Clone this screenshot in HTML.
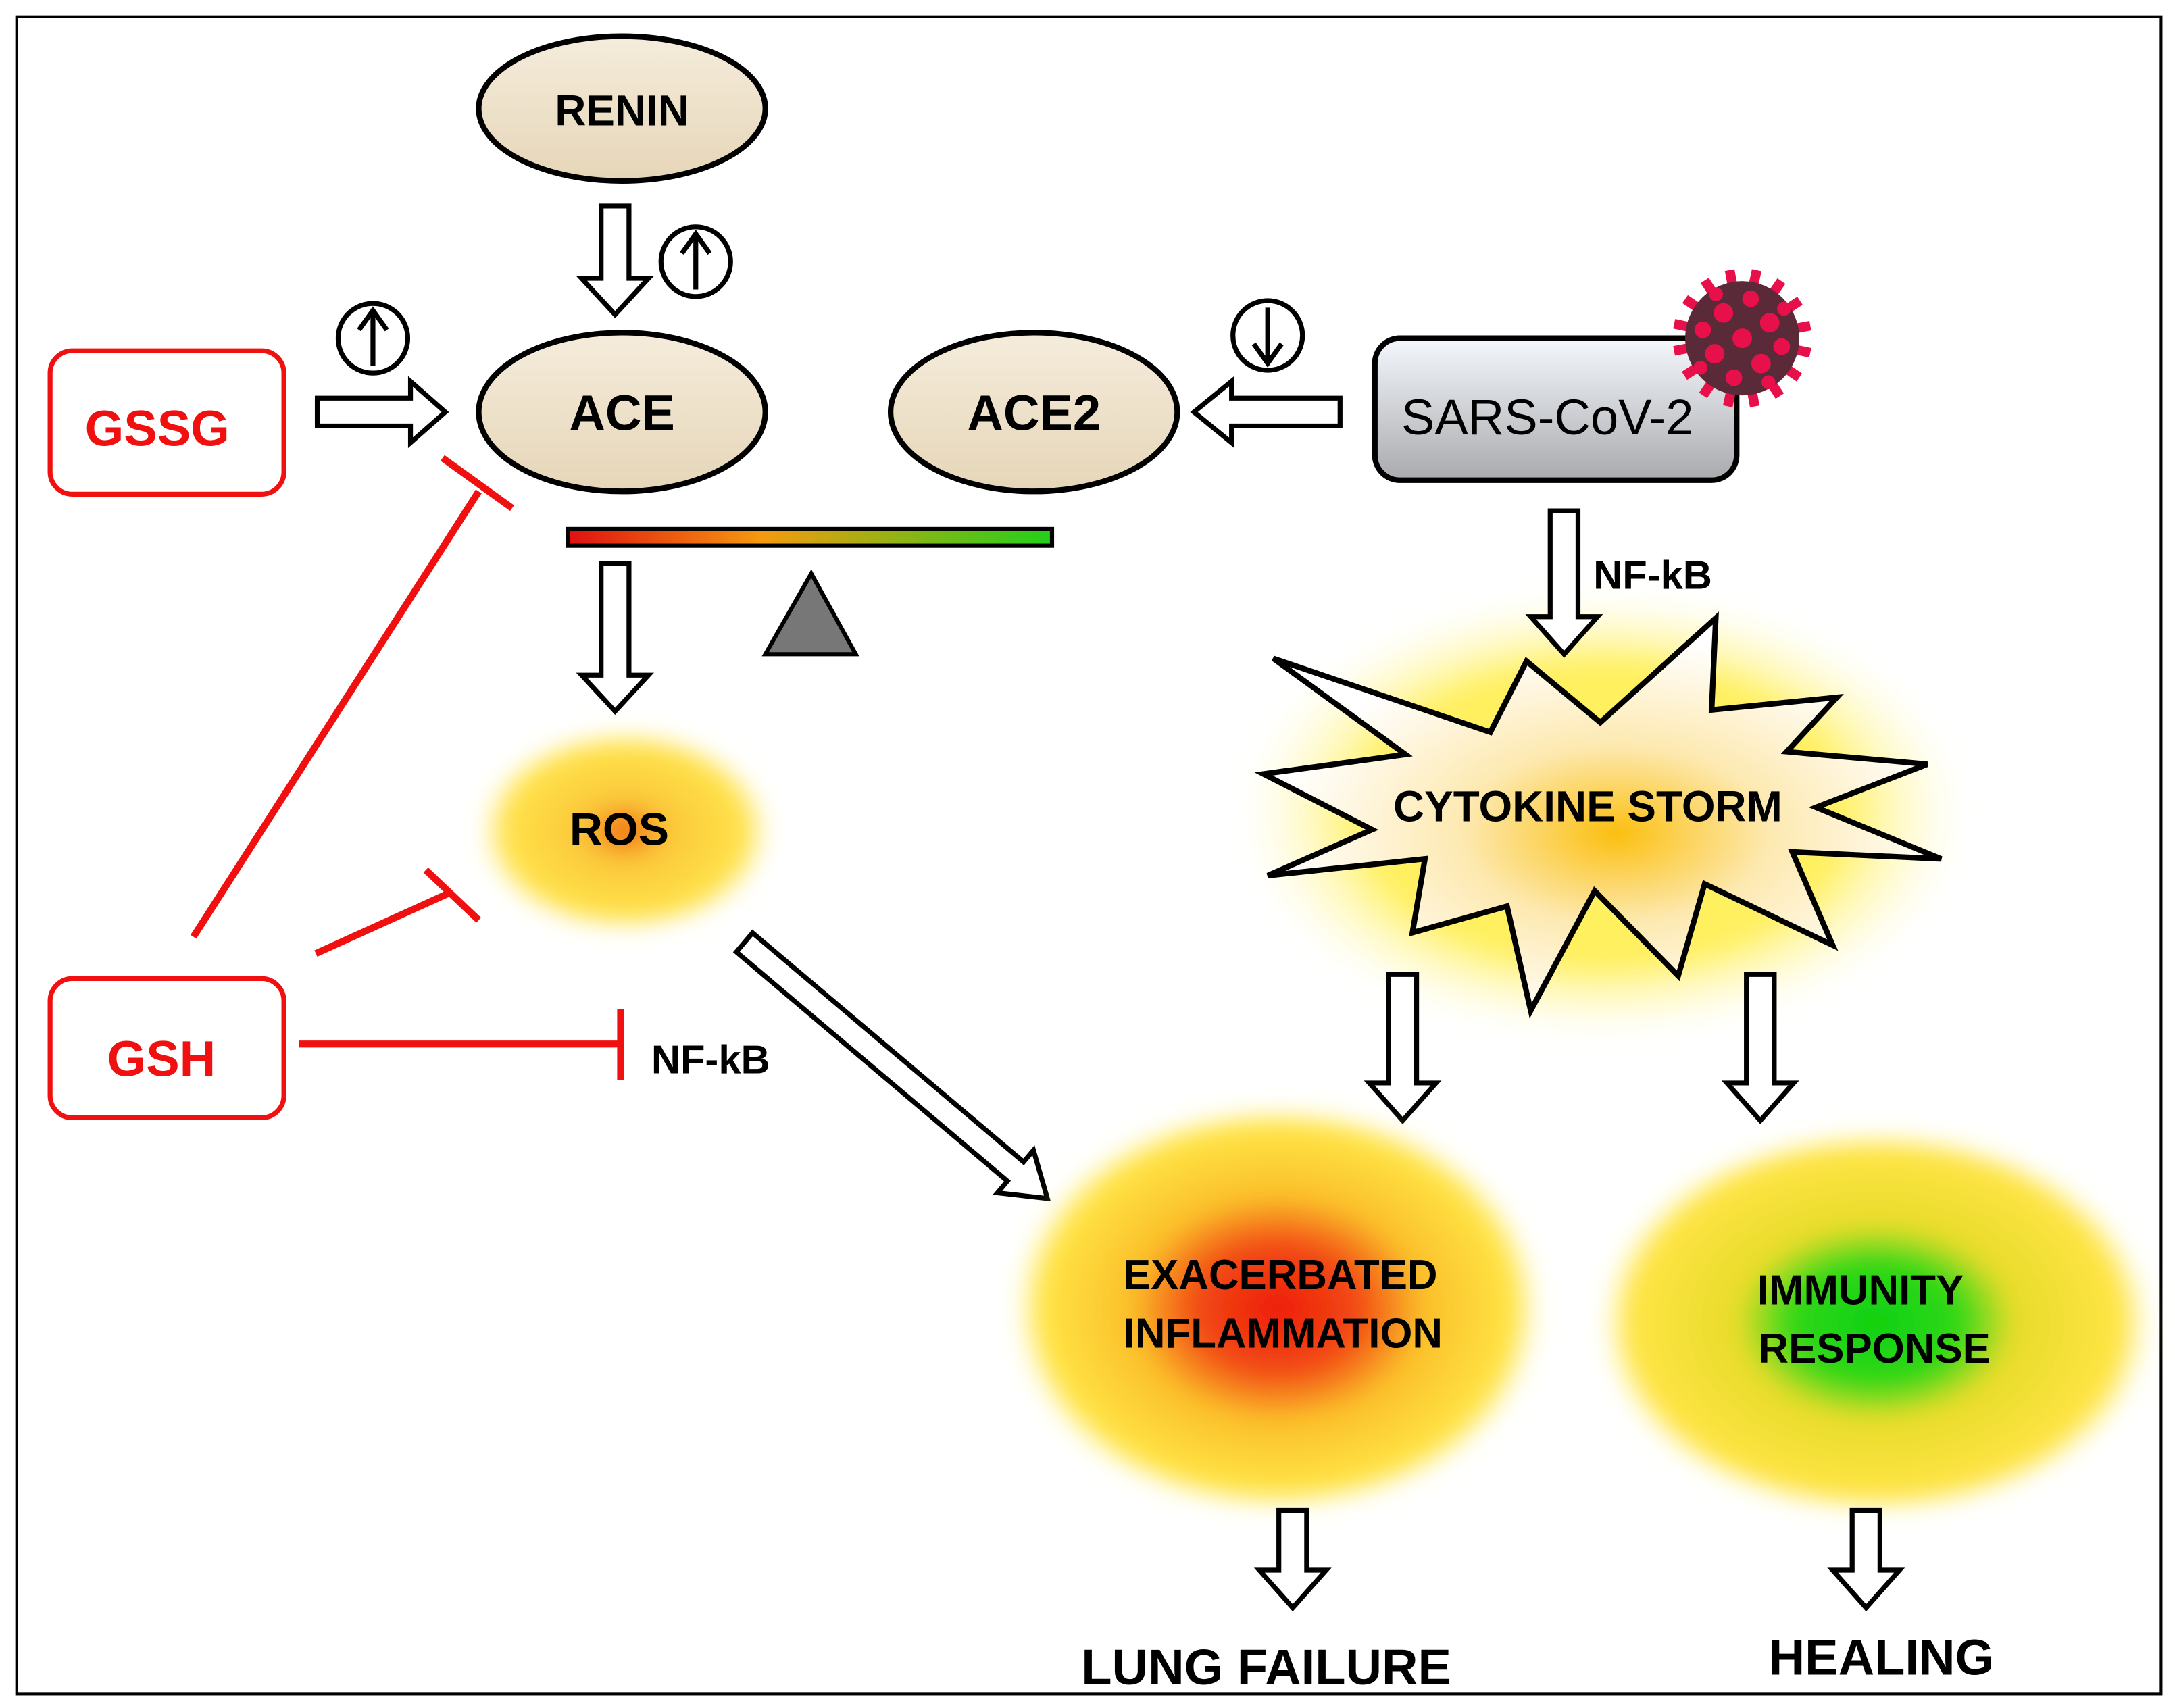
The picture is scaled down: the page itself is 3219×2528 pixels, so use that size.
<!DOCTYPE html>
<html><head><meta charset="utf-8"><style>
html,body{margin:0;padding:0;background:#fff}
svg{display:block}
text{font-family:"Liberation Sans",Arial,sans-serif;font-weight:bold}
</style></head><body>
<svg width="3219" height="2528" viewBox="0 0 1563 1227" preserveAspectRatio="none" xmlns="http://www.w3.org/2000/svg">
<defs>
<linearGradient id="ell" x1="0" y1="0" x2="0" y2="1"><stop offset="0" stop-color="#f5ecdc"/><stop offset="1" stop-color="#e6d6b8"/></linearGradient>
<linearGradient id="sars" x1="0" y1="0" x2="0" y2="1"><stop offset="0" stop-color="#f4f8fc"/><stop offset="1" stop-color="#a9aaae"/></linearGradient>
<linearGradient id="bar" x1="0" y1="0" x2="1" y2="0"><stop offset="0" stop-color="#e01010"/><stop offset="0.4" stop-color="#f59a10"/><stop offset="1" stop-color="#22d01a"/></linearGradient>
<radialGradient id="ros"><stop offset="0" stop-color="#f06a10"/><stop offset="0.3" stop-color="#fbc83a"/><stop offset="0.8" stop-color="#ffe24a"/><stop offset="1" stop-color="#fff4a0" stop-opacity="0"/></radialGradient>
<radialGradient id="infl"><stop offset="0" stop-color="#ee1c0c"/><stop offset="0.3" stop-color="#f24a14"/><stop offset="0.55" stop-color="#fbc02a"/><stop offset="0.88" stop-color="#ffe445"/><stop offset="1" stop-color="#fff6a0" stop-opacity="0"/></radialGradient>
<radialGradient id="imm"><stop offset="0" stop-color="#10d010"/><stop offset="0.3" stop-color="#30d818"/><stop offset="0.5" stop-color="#e8dc2a"/><stop offset="0.88" stop-color="#ffe445"/><stop offset="1" stop-color="#fff6a0" stop-opacity="0"/></radialGradient>
<radialGradient id="storm" cx="0.52" cy="0.55"><stop offset="0" stop-color="#fbbf10"/><stop offset="0.45" stop-color="#fde9b0"/><stop offset="1" stop-color="#ffffff"/></radialGradient>
<radialGradient id="glow"><stop offset="0.65" stop-color="#fff060"/><stop offset="1" stop-color="#fffbd0" stop-opacity="0"/></radialGradient>
<filter id="blur" x="-20%" y="-20%" width="140%" height="140%"><feGaussianBlur stdDeviation="7"/></filter>
</defs>
<rect x="12" y="12" width="1541" height="1205" fill="#fff" stroke="#000" stroke-width="2"/>

<ellipse cx="447" cy="78" rx="103" ry="52" fill="url(#ell)" stroke="#000" stroke-width="4"/>
<text x="447" y="90" font-size="31" text-anchor="middle">RENIN</text>
<path d="M432 148 H452 V200 H466 L442 226 L418 200 H432 Z" fill="#fff" stroke="#000" stroke-width="3.5"/>
<circle cx="500" cy="188" r="25" fill="#fff" stroke="#000" stroke-width="3.5"/>
<path d="M500 208 V170 M490 182 L500 168 L510 182" fill="none" stroke="#000" stroke-width="3.5"/>
<circle cx="268" cy="243" r="25" fill="#fff" stroke="#000" stroke-width="3.5"/>
<path d="M268 263 V225 M258 237 L268 223 L278 237" fill="none" stroke="#000" stroke-width="3.5"/>
<circle cx="911" cy="241" r="25" fill="#fff" stroke="#000" stroke-width="3.5"/>
<path d="M911 221 V259 M901 247 L911 261 L921 247" fill="none" stroke="#000" stroke-width="3.5"/>

<ellipse cx="447" cy="296" rx="103" ry="57" fill="url(#ell)" stroke="#000" stroke-width="4"/>
<text x="447" y="309" font-size="36" text-anchor="middle">ACE</text>
<ellipse cx="743" cy="296" rx="103" ry="57" fill="url(#ell)" stroke="#000" stroke-width="4"/>
<text x="743" y="309" font-size="36" text-anchor="middle">ACE2</text>

<rect x="36" y="252" width="168" height="103" rx="16" fill="#fff" stroke="#f01010" stroke-width="3.5"/>
<text x="113" y="320" font-size="36" fill="#f01010" text-anchor="middle">GSSG</text>
<path d="M228 286 H295 V274 L320 296 L295 318 V306 H228 Z" fill="#fff" stroke="#000" stroke-width="3.5"/>

<rect x="988" y="243" width="260" height="102" rx="18" fill="url(#sars)" stroke="#000" stroke-width="4"/>
<text x="1112" y="312" font-size="36" style="font-weight:normal" text-anchor="middle">SARS-CoV-2</text>
<path d="M963 286 H885 V274 L858 296 L885 318 V306 H963 Z" fill="#fff" stroke="#000" stroke-width="3.5"/>
<g transform="translate(1252,243) rotate(12)">
<g stroke="#e8104a" stroke-width="7">
<line x1="0" y1="-50" x2="0" y2="50"/><line x1="-50" y1="0" x2="50" y2="0"/>
<line x1="-35" y1="-35" x2="35" y2="35"/><line x1="-35" y1="35" x2="35" y2="-35"/>
<line x1="-19" y1="-46" x2="19" y2="46"/><line x1="-46" y1="-19" x2="46" y2="19"/>
<line x1="19" y1="-46" x2="-19" y2="46"/><line x1="-46" y1="19" x2="46" y2="-19"/>
</g>
<circle r="41" fill="#5a2a38"/>
<g fill="#e8104a"><circle cx="0" cy="0" r="7"/><circle cx="-17" cy="-15" r="7"/><circle cx="17" cy="-15" r="7"/><circle cx="-17" cy="15" r="7"/><circle cx="17" cy="15" r="7"/><circle cx="0" cy="-29" r="6"/><circle cx="0" cy="29" r="6"/><circle cx="-29" cy="0" r="6"/><circle cx="29" cy="0" r="6"/><circle cx="-25" cy="-27" r="5"/><circle cx="25" cy="27" r="5"/><circle cx="25" cy="-27" r="5"/><circle cx="-25" cy="27" r="5"/></g>
</g>

<rect x="408" y="380" width="348" height="12" fill="url(#bar)" stroke="#000" stroke-width="3"/>
<polygon points="550,470 583,412 615,470" fill="#777" stroke="#000" stroke-width="3"/>
<path d="M432 405 H452 V485 H466 L442 511 L418 485 H432 Z" fill="#fff" stroke="#000" stroke-width="3.5"/>

<rect x="342" y="522" width="214" height="150" rx="65" fill="url(#ros)" filter="url(#blur)"/>
<text x="445" y="607" font-size="33" text-anchor="middle">ROS</text>

<g stroke="#f01010" stroke-width="5" fill="none">
<line x1="139" y1="673" x2="344" y2="353"/><line x1="318" y1="329" x2="368" y2="365"/>
<line x1="227" y1="685" x2="324" y2="641"/><line x1="306" y1="625" x2="344" y2="661"/>
<line x1="215" y1="750" x2="446" y2="750"/><line x1="446" y1="725" x2="446" y2="776"/>
</g>
<rect x="36" y="703" width="168" height="100" rx="16" fill="#fff" stroke="#f01010" stroke-width="3.5"/>
<text x="116" y="773" font-size="36" fill="#f01010" text-anchor="middle">GSH</text>
<text x="468" y="771" font-size="29">NF-kB</text>

<g transform="translate(535,677) rotate(40.2)">
<path d="M0 -9 H255 V-20 L285 0 L255 20 V9 H0 Z" fill="#fff" stroke="#000" stroke-width="3.5"/>
</g>

<ellipse cx="1152" cy="585" rx="262" ry="162" fill="url(#glow)" filter="url(#blur)"/>
<polygon points="915,473 1071,526 1097,475 1150,519 1233,444 1230,510 1320,501 1284,540 1385,549 1305,580 1395,617 1288,612 1317,679 1225,635 1206,701 1146,640 1100,726 1083,651 1015,670 1024,617 911,629 986,596 908,556 1010,542" fill="url(#storm)" stroke="#000" stroke-width="4" stroke-linejoin="miter"/>
<text x="1141" y="590" font-size="31" text-anchor="middle">CYTOKINE STORM</text>
<path d="M1114 367 H1134 V443 H1148 L1124 470 L1100 443 H1114 Z" fill="#fff" stroke="#000" stroke-width="3.5"/>
<text x="1145" y="423" font-size="29">NF-kB</text>

<path d="M998 700 H1018 V778 H1032 L1008 805 L984 778 H998 Z" fill="#fff" stroke="#000" stroke-width="3.5"/>
<path d="M1255 700 H1275 V778 H1289 L1265 805 L1241 778 H1255 Z" fill="#fff" stroke="#000" stroke-width="3.5"/>

<ellipse cx="918" cy="940" rx="192" ry="148" fill="url(#infl)" filter="url(#blur)"/>
<ellipse cx="1348" cy="950" rx="200" ry="140" fill="url(#imm)" filter="url(#blur)"/>
<text x="920" y="926" font-size="30" text-anchor="middle">EXACERBATED</text>
<text x="922" y="968" font-size="30" text-anchor="middle">INFLAMMATION</text>
<text x="1337" y="937" font-size="30" text-anchor="middle">IMMUNITY</text>
<text x="1347" y="979" font-size="30" text-anchor="middle">RESPONSE</text>

<path d="M919 1085 H939 V1128 H953 L929 1155 L905 1128 H919 Z" fill="#fff" stroke="#000" stroke-width="3.5"/>
<path d="M1331 1085 H1351 V1128 H1365 L1341 1155 L1317 1128 H1331 Z" fill="#fff" stroke="#000" stroke-width="3.5"/>
<text x="910" y="1210" font-size="36" text-anchor="middle">LUNG FAILURE</text>
<text x="1352" y="1203" font-size="36" text-anchor="middle">HEALING</text>
</svg>
</body></html>
